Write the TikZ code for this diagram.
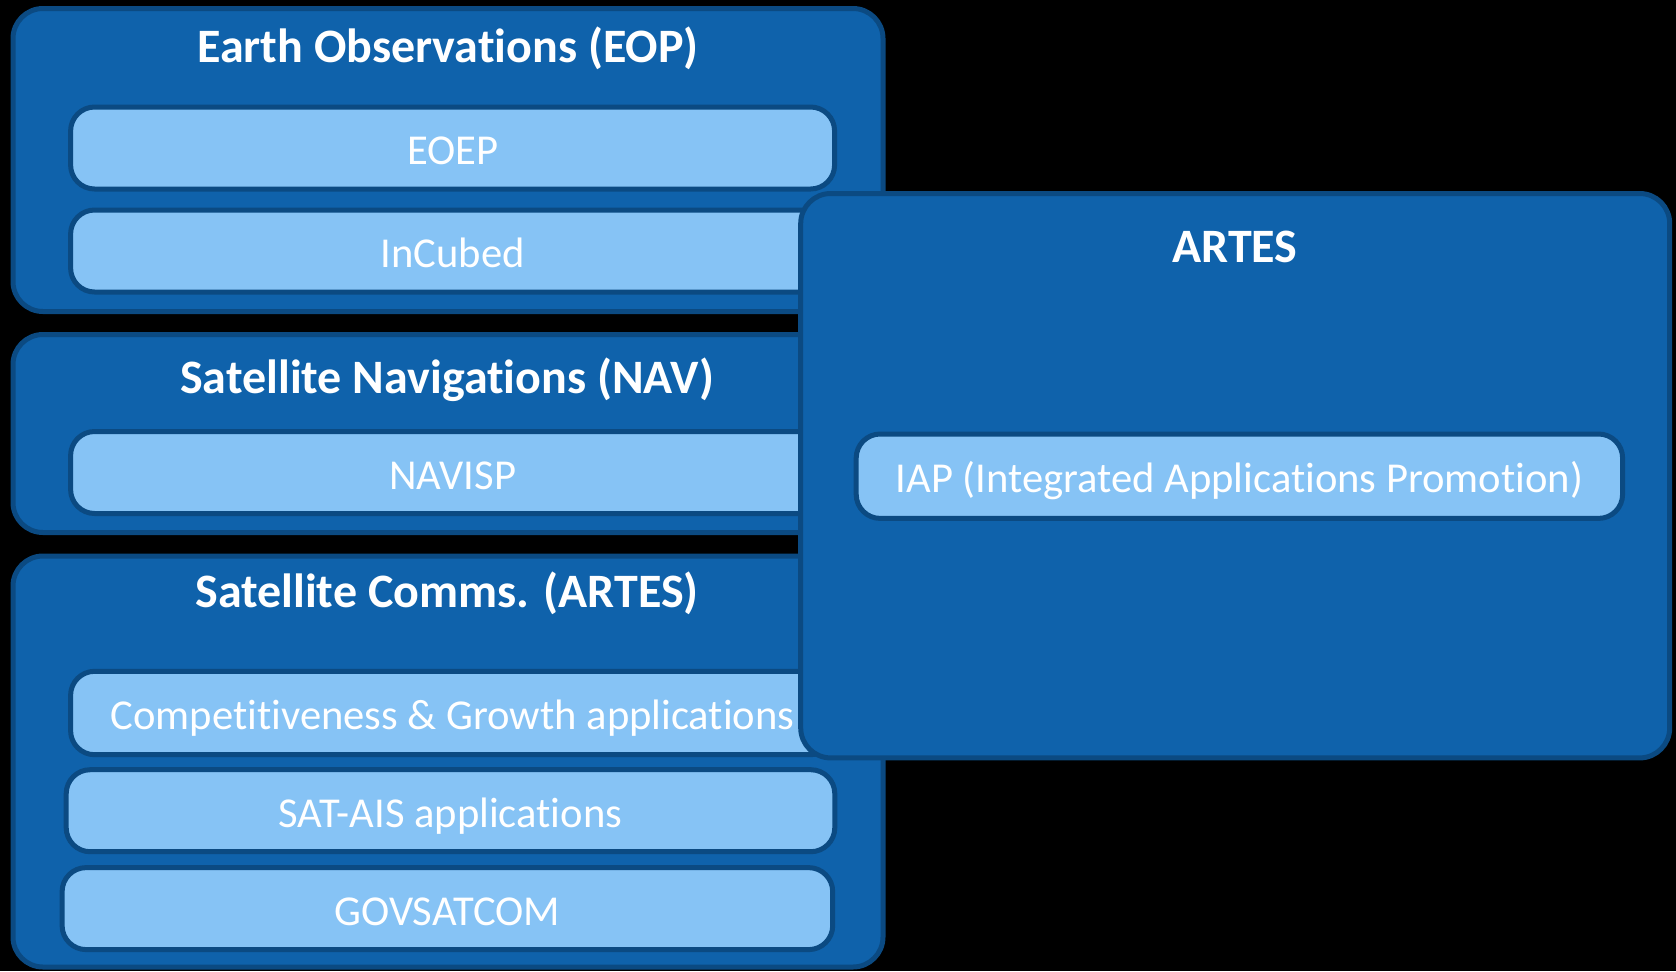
\documentclass[tikz,border=0pt]{standalone}
\usepackage{fontspec}
\setmainfont{Carlito}[Ligatures=NoCommon]
\usetikzlibrary{positioning}
\definecolor{progblue}{HTML}{0F62AB}
\definecolor{progedge}{HTML}{0B4A82}
\definecolor{itemblue}{HTML}{86C3F5}
\tikzset{
  group/.style={draw=progedge, fill=progblue, line width=2.5pt, rounded corners=15pt, inner sep=0pt},
  item/.style={draw=progedge, fill=itemblue, line width=2.5pt, rounded corners=12pt,
    minimum width=382pt, minimum height=41pt, inner sep=0pt, text=white,
    font=\fontsize{21.3}{24}\selectfont, text height=16.6pt, text depth=0pt},
  heading/.style={text=white, inner sep=0pt, font=\fontsize{24}{28}\selectfont\bfseries,
    text height=16.5pt, text depth=0pt}
}

\begin{document}
\begin{tikzpicture}[x=0.5pt, y=-0.5pt]
    \fill[black] (0,0) rectangle (1676,971);
    \useasboundingbox (0,0) rectangle (1676,971);
    % Earth observations
    \node[group, minimum width=435pt, minimum height=151.5pt] (eop) at (448,160) {};
    \node[heading] (eoptitle) at (448,46) {Earth Observations (EOP)};
    \node[item] (eoep) at (452.6,148) {EOEP};
    \node[item] (incubed) at (452.6,251) {InCubed};
    % Navigation
    \node[group, minimum width=435pt, minimum height=99pt] (nav) at (448,433.5) {};
    \node[heading] (navtitle) at (447,377) {Satellite Navigations (NAV)};
    \node[item] (navisp) at (452.6,472.5) {NAVISP};
    % Communications
    \node[group, minimum width=435pt, minimum height=205.5pt] (comms) at (448,761.5) {};
    \node[heading] (commstitle) at (447,591) {Satellite Comms. (ARTES)};
    \node[item, minimum height=41.7pt] (compgrowth) at (452.6,713) {Competitiveness \& Growth applications};
    \node[item, minimum width=384.3pt] (satais) at (450.5,810.7) {SAT-AIS applications};
    \node[item, minimum width=385.3pt] (govsatcom) at (447.4,908.6) {GOVSATCOM};
    % ARTES on top
    \node[group, minimum width=434.5pt, minimum height=282.2pt] (artes) at (1235.2,475.7) {};
    \node[heading] (artestitle) at (1235,246) {ARTES};
    \node[item, minimum width=383.2pt, minimum height=42.2pt] (iap) at (1239.4,476.2) {IAP (Integrated Applications Promotion)};
\end{tikzpicture}
\end{document}
